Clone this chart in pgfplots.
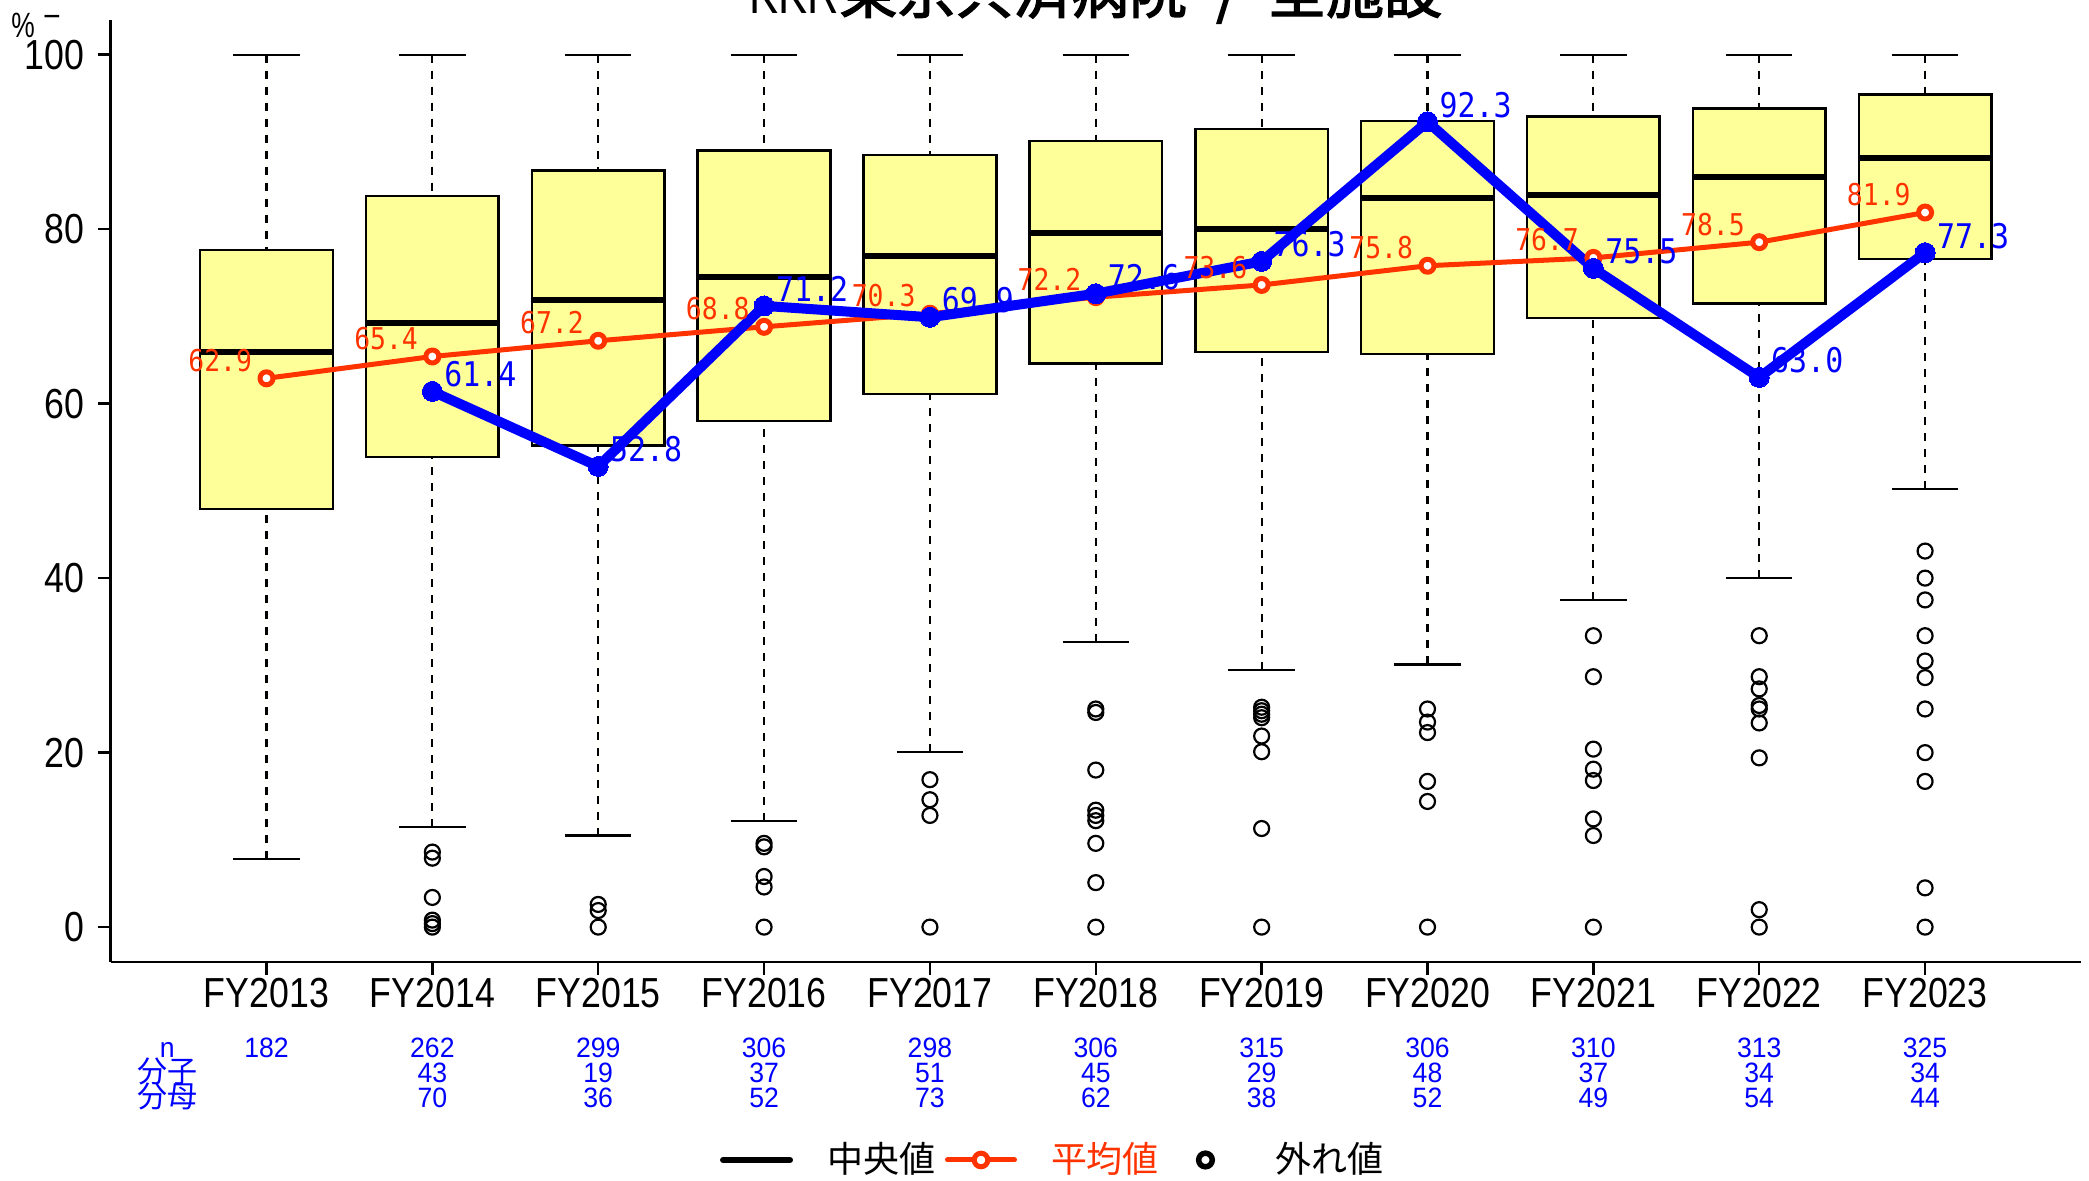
\documentclass[border=0pt]{standalone}
\usepackage{fontspec}
\usepackage{pgfplots}
\pgfplotsset{compat=1.18}
\usepgfplotslibrary{statistics}
\setmainfont{Liberation Sans}
\newfontfamily\tkfont{Liberation Sans}[FakeStretch=0.85]
\newfontfamily\nfont{Liberation Sans}[FakeStretch=0.95]
\newfontfamily\tlfont{Liberation Sans}[FakeStretch=0.75]
\newfontfamily\mfont{DejaVu Sans Mono}[FakeStretch=0.88]
\newfontfamily\jp{Noto Sans CJK JP}
\newfontfamily\jpb{Noto Sans CJK JP}[FakeBold=2.5]
\definecolor{boxfill}{RGB}{255,255,153}
\definecolor{redc}{RGB}{255,51,0}
\definecolor{bluec}{RGB}{0,0,255}
\newcommand\tickfs{\tkfont\fontsize{11.95}{12}\selectfont}
\newcommand\numfs{\nfont\fontsize{7.97}{8}\selectfont}
\newcommand\numjp{\jp\fontsize{8.54}{9}\selectfont}
\begin{document}
\begin{tikzpicture}
\begin{axis}[
  at={(11.06mm,-96.2mm)}, anchor=south west,
  width=197.04mm, height=94.23mm, scale only axis,
  xmin=0.06, xmax=11.94, ymin=-4, ymax=104,
  axis x line*=bottom, axis y line*=left,
  axis line style={line width=0.25mm, -},
  xtick={1,2,3,4,5,6,7,8,9,10,11},
  xticklabels={FY2013,FY2014,FY2015,FY2016,FY2017,FY2018,FY2019,FY2020,FY2021,FY2022,FY2023},
  ytick={0,20,40,60,80,100},
  minor tick num=0,
  tick style={line width=0.25mm, black},
  tick align=outside, major tick length=1.25mm,
  xticklabel style={font=\tickfs, inner sep=0pt, yshift=-0.3mm},
  yticklabel style={font=\tickfs, inner sep=0pt, xshift=-1.3mm},
  /pgf/number format/assume math mode=true,
  clip=false,
  boxplot/draw direction=y,
  boxplot/box extend=0.8, boxplot/whisker extend=0.4,
  boxplot/every median/.style={line width=0.6mm, solid},
  boxplot/every whisker/.style={line width=0.22mm},
  boxplot/draw/lower whisker/.code={%
    \draw[/pgfplots/boxplot/every whisker/.try, dash pattern=on 0.8mm off 0.8mm]
      (boxplot box cs:\pgfplotsboxplotvalue{lower whisker},0.5) --
      (boxplot box cs:\pgfplotsboxplotvalue{lower quartile},0.5);
    \draw[/pgfplots/boxplot/every whisker/.try]
      (boxplot whisker cs:\pgfplotsboxplotvalue{lower whisker},0) --
      (boxplot whisker cs:\pgfplotsboxplotvalue{lower whisker},1);
  },
  boxplot/draw/upper whisker/.code={%
    \draw[/pgfplots/boxplot/every whisker/.try, dash pattern=on 0.8mm off 0.8mm]
      (boxplot box cs:\pgfplotsboxplotvalue{upper whisker},0.5) --
      (boxplot box cs:\pgfplotsboxplotvalue{upper quartile},0.5);
    \draw[/pgfplots/boxplot/every whisker/.try]
      (boxplot whisker cs:\pgfplotsboxplotvalue{upper whisker},0) --
      (boxplot whisker cs:\pgfplotsboxplotvalue{upper whisker},1);
  },
  bx/.style={forget plot, draw=black, fill=boxfill, line width=0.25mm, solid,
    mark=o, mark size=0.75mm, mark options={draw=black, solid, line width=0.22mm}},
  legend columns=3,
  legend style={draw=none, fill=none, at={(0.3093,-0.2101)}, anchor=west,
    inner sep=0pt, outer sep=0pt,
    font=\jp\fontsize{10.24}{11}\selectfont,
    nodes={inner sep=0pt},
    /tikz/every odd column/.append style={column sep=3.4mm},
    /tikz/every even column/.append style={column sep=1.0mm}},
]
% boxplots
\addplot[bx, boxplot prepared={draw direction=y, draw position=1, lower whisker=7.8, lower quartile=47.9, median=65.9, upper quartile=77.6, upper whisker=100}] coordinates {};
\addplot[bx, boxplot prepared={draw direction=y, draw position=2, lower whisker=11.5, lower quartile=53.9, median=69.2, upper quartile=83.8, upper whisker=100}]
  table[row sep=\\, y index=0] {v\\ 8.6\\ 7.9\\ 3.4\\ 0.8\\ 0.4\\ 0\\};
\addplot[bx, boxplot prepared={draw direction=y, draw position=3, lower whisker=10.5, lower quartile=55.2, median=71.9, upper quartile=86.7, upper whisker=100}]
  table[row sep=\\, y index=0] {v\\ 2.6\\ 1.9\\ 0\\};
\addplot[bx, boxplot prepared={draw direction=y, draw position=4, lower whisker=12.2, lower quartile=58.0, median=74.5, upper quartile=89.0, upper whisker=100}]
  table[row sep=\\, y index=0] {v\\ 9.6\\ 9.2\\ 5.8\\ 4.6\\ 0\\};
\addplot[bx, boxplot prepared={draw direction=y, draw position=5, lower whisker=20.1, lower quartile=61.1, median=76.9, upper quartile=88.5, upper whisker=100}]
  table[row sep=\\, y index=0] {v\\ 16.9\\ 14.6\\ 12.8\\ 0\\};
\addplot[bx, boxplot prepared={draw direction=y, draw position=6, lower whisker=32.7, lower quartile=64.6, median=79.5, upper quartile=90.1, upper whisker=100}]
  table[row sep=\\, y index=0] {v\\ 25.0\\ 24.6\\ 18.0\\ 13.4\\ 12.8\\ 12.2\\ 9.6\\ 5.1\\ 0\\};
\addplot[bx, boxplot prepared={draw direction=y, draw position=7, lower whisker=29.5, lower quartile=65.9, median=80.0, upper quartile=91.5, upper whisker=100}]
  table[row sep=\\, y index=0] {v\\ 25.2\\ 24.8\\ 24.4\\ 24.0\\ 21.9\\ 20.1\\ 11.3\\ 0\\};
\addplot[bx, boxplot prepared={draw direction=y, draw position=8, lower whisker=30.1, lower quartile=65.7, median=83.6, upper quartile=92.4, upper whisker=100}]
  table[row sep=\\, y index=0] {v\\ 25.0\\ 23.5\\ 22.3\\ 16.7\\ 14.4\\ 0\\};
\addplot[bx, boxplot prepared={draw direction=y, draw position=9, lower whisker=37.5, lower quartile=69.8, median=83.9, upper quartile=92.9, upper whisker=100}]
  table[row sep=\\, y index=0] {v\\ 33.4\\ 28.7\\ 20.4\\ 18.1\\ 16.8\\ 12.4\\ 10.5\\ 0\\};
\addplot[bx, boxplot prepared={draw direction=y, draw position=10, lower whisker=40.0, lower quartile=71.5, median=86.0, upper quartile=93.8, upper whisker=100}]
  table[row sep=\\, y index=0] {v\\ 33.4\\ 28.7\\ 27.3\\ 25.4\\ 25.0\\ 23.4\\ 19.4\\ 2.0\\ 0\\};
\addplot[bx, boxplot prepared={draw direction=y, draw position=11, lower whisker=50.2, lower quartile=76.6, median=88.1, upper quartile=95.4, upper whisker=100}]
  table[row sep=\\, y index=0] {v\\ 43.1\\ 40.0\\ 37.5\\ 33.4\\ 30.5\\ 28.6\\ 25.0\\ 20.0\\ 16.7\\ 4.5\\ 0\\};
% mean line
\addplot[forget plot, redc, line width=0.5mm, line join=round, mark=*, mark size=0.65mm,
  mark options={fill=white, draw=redc, line width=0.5mm},
  nodes near coords, point meta=explicit symbolic,
  every node near coord/.append style={font=\mfont\fontsize{8.54}{9}\selectfont, text=redc,
    anchor=south east, inner sep=0pt, xshift=-1.2mm, yshift=0.4mm}]
coordinates {(1,62.9)[62.9] (2,65.4)[65.4] (3,67.2)[67.2] (4,68.8)[68.8] (5,70.3)[70.3]
  (6,72.2)[72.2] (7,73.6)[73.6] (8,75.8)[75.8] (9,76.7)[76.7] (10,78.5)[78.5] (11,81.9)[81.9]};
% hospital line
\addplot[forget plot, bluec, line width=1.0mm, line join=round, mark=*, mark size=1.0mm,
  mark options={fill=bluec, draw=bluec, line width=0pt},
  nodes near coords, point meta=explicit symbolic,
  every node near coord/.append style={font=\mfont\fontsize{9.67}{10}\selectfont, text=bluec,
    anchor=south west, inner sep=0pt, xshift=1.2mm, yshift=0.4mm}]
coordinates {(2,61.4)[61.4] (3,52.8)[52.8] (4,71.2)[71.2] (5,69.9)[69.9] (6,72.6)[72.6]
  (7,76.3)[76.3] (8,92.3)[92.3] (9,75.5)[75.5] (10,63.0)[63.0] (11,77.3)[77.3]};
% legend
\addlegendimage{legend image code/.code={\draw[black, line width=0.6mm, line cap=round] (0.3mm,0mm) -- (7.0mm,0mm);}}
\addlegendentry{中央値}
\addlegendimage{legend image code/.code={\draw[redc, line width=0.5mm, line cap=round] (0.3mm,0mm) -- (7.0mm,0mm); \draw[redc, line width=0.5mm, fill=white] (3.65mm,0mm) circle (0.68mm);}}
\addlegendentry{\textcolor{redc}{平均値}}
\addlegendimage{legend image code/.code={\path[draw=none, fill=none] (0mm,0mm) (7.3mm,0mm); \draw[black, line width=0.55mm, fill=none] (3.65mm,0mm) circle (0.68mm);}}
\addlegendentry{外れ値}
% counts below the axis
\node[anchor=base, font=\nfont\fontsize{7.97}{8}\selectfont, text=bluec] at (axis cs:0.401,-14.9) {n};
\node[anchor=base, font=\numjp, text=bluec] at (axis cs:0.401,-17.76) {分子};
\node[anchor=base, font=\numjp, text=bluec] at (axis cs:0.401,-20.63) {分母};
\node[anchor=base, font=\numfs, text=bluec] at (axis cs:1,-14.9) {182};
\node[anchor=base, font=\numfs, text=bluec] at (axis cs:2,-14.9) {262};
\node[anchor=base, font=\numfs, text=bluec] at (axis cs:2,-17.76) {43};
\node[anchor=base, font=\numfs, text=bluec] at (axis cs:2,-20.63) {70};
\node[anchor=base, font=\numfs, text=bluec] at (axis cs:3,-14.9) {299};
\node[anchor=base, font=\numfs, text=bluec] at (axis cs:3,-17.76) {19};
\node[anchor=base, font=\numfs, text=bluec] at (axis cs:3,-20.63) {36};
\node[anchor=base, font=\numfs, text=bluec] at (axis cs:4,-14.9) {306};
\node[anchor=base, font=\numfs, text=bluec] at (axis cs:4,-17.76) {37};
\node[anchor=base, font=\numfs, text=bluec] at (axis cs:4,-20.63) {52};
\node[anchor=base, font=\numfs, text=bluec] at (axis cs:5,-14.9) {298};
\node[anchor=base, font=\numfs, text=bluec] at (axis cs:5,-17.76) {51};
\node[anchor=base, font=\numfs, text=bluec] at (axis cs:5,-20.63) {73};
\node[anchor=base, font=\numfs, text=bluec] at (axis cs:6,-14.9) {306};
\node[anchor=base, font=\numfs, text=bluec] at (axis cs:6,-17.76) {45};
\node[anchor=base, font=\numfs, text=bluec] at (axis cs:6,-20.63) {62};
\node[anchor=base, font=\numfs, text=bluec] at (axis cs:7,-14.9) {315};
\node[anchor=base, font=\numfs, text=bluec] at (axis cs:7,-17.76) {29};
\node[anchor=base, font=\numfs, text=bluec] at (axis cs:7,-20.63) {38};
\node[anchor=base, font=\numfs, text=bluec] at (axis cs:8,-14.9) {306};
\node[anchor=base, font=\numfs, text=bluec] at (axis cs:8,-17.76) {48};
\node[anchor=base, font=\numfs, text=bluec] at (axis cs:8,-20.63) {52};
\node[anchor=base, font=\numfs, text=bluec] at (axis cs:9,-14.9) {310};
\node[anchor=base, font=\numfs, text=bluec] at (axis cs:9,-17.76) {37};
\node[anchor=base, font=\numfs, text=bluec] at (axis cs:9,-20.63) {49};
\node[anchor=base, font=\numfs, text=bluec] at (axis cs:10,-14.9) {313};
\node[anchor=base, font=\numfs, text=bluec] at (axis cs:10,-17.76) {34};
\node[anchor=base, font=\numfs, text=bluec] at (axis cs:10,-20.63) {54};
\node[anchor=base, font=\numfs, text=bluec] at (axis cs:11,-14.9) {325};
\node[anchor=base, font=\numfs, text=bluec] at (axis cs:11,-17.76) {34};
\node[anchor=base, font=\numfs, text=bluec] at (axis cs:11,-20.63) {44};
\end{axis}
% title (cut by the top edge) and unit label
\node[anchor=base, inner sep=0pt] at (109.6mm,-1.3mm)
  {\tlfont\fontsize{16.5}{17}\selectfont KKR\jpb 東京共済病院\hspace{0.5em}/\hspace{0.5em}全施設};
\node[anchor=center, inner sep=0pt, font=\tlfont\fontsize{10}{10}\selectfont] at (2.3mm,-2.5mm) {\%};
\node[anchor=center, inner sep=0pt, font=\tlfont\fontsize{10}{10}\selectfont] at (5.2mm,-2.0mm) {–};
\pgfresetboundingbox
\path[use as bounding box] (0,0) rectangle (208.9mm,-118mm);
\end{tikzpicture}
\end{document}
